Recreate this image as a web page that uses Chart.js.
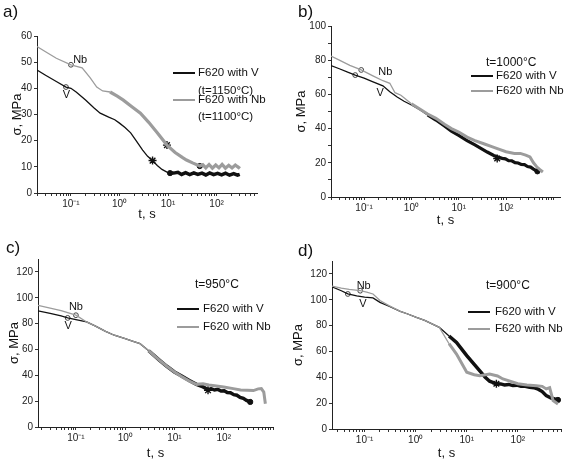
<!DOCTYPE html>
<html lang="en">
<head>
    <meta charset="UTF-8">
    <title>Stress relaxation F620</title>
    <script src="https://cdn.jsdelivr.net/npm/chart.js"></script>
    <style>
        body { margin: 0; background: #fff; font-family: "Liberation Sans", Arial, sans-serif; }
        #wrap { position: relative; width: 567px; height: 465px; overflow: hidden; }
        canvas { position: absolute; }
        .txt { position: absolute; color: #111; white-space: nowrap; line-height: 1; }
        .panel { font-size: 17px; }
        .leg { font-size: 11.5px; }
        .temp { font-size: 12px; }
        .sw { position: absolute; height: 2px; width: 22px; }
    </style>
</head>
<body>
<div id="wrap">
    <canvas id="chA" width="283" height="232" style="left:0;top:0"></canvas>
    <canvas id="chB" width="284" height="232" style="left:283px;top:0"></canvas>
    <canvas id="chC" width="283" height="233" style="left:0;top:232px"></canvas>
    <canvas id="chD" width="284" height="233" style="left:283px;top:232px"></canvas>

    <div class="txt panel" style="left:3px;top:3px">a)</div>
    <div class="txt panel" style="left:298px;top:3px">b)</div>
    <div class="txt panel" style="left:6px;top:239px">c)</div>
    <div class="txt panel" style="left:298px;top:242px">d)</div>

    <div class="sw" style="left:173px;top:72px;background:#111"></div>
    <div class="txt leg" style="left:198px;top:67px">F620 with V</div>
    <div class="txt leg" style="left:198px;top:85px">(t=1150°C)</div>
    <div class="sw" style="left:173px;top:99px;background:#9c9c9c"></div>
    <div class="txt leg" style="left:198px;top:94px">F620 with Nb</div>
    <div class="txt leg" style="left:198px;top:111px">(t=1100°C)</div>

    <div class="txt temp" style="left:486px;top:56px">t=1000°C</div>
    <div class="sw" style="left:471px;top:75px;background:#111"></div>
    <div class="txt leg" style="left:496px;top:70px">F620 with V</div>
    <div class="sw" style="left:471px;top:90px;background:#9c9c9c"></div>
    <div class="txt leg" style="left:496px;top:85px">F620 with Nb</div>

    <div class="txt temp" style="left:195px;top:278px">t=950°C</div>
    <div class="sw" style="left:177px;top:308px;background:#111"></div>
    <div class="txt leg" style="left:203px;top:303px">F620 with V</div>
    <div class="sw" style="left:177px;top:326px;background:#9c9c9c"></div>
    <div class="txt leg" style="left:203px;top:321px">F620 with Nb</div>

    <div class="txt temp" style="left:486px;top:279px">t=900°C</div>
    <div class="sw" style="left:468px;top:311px;background:#111"></div>
    <div class="txt leg" style="left:495px;top:306px">F620 with V</div>
    <div class="sw" style="left:468px;top:328px;background:#9c9c9c"></div>
    <div class="txt leg" style="left:495px;top:323px">F620 with Nb</div>
</div>

<script>
    // ---- a) V at 1150 C, Nb at 1100 C
    const tVa = [0.02,0.03,0.05,0.079,0.1,0.13,0.2,0.3,0.4,0.6,0.8,1,1.3,1.7,2.2,3,3.8,4.8,6,7.5,9.5,11,13,16,19,23,28,34,41,50,60,72,87,105,127,153,185,225,270,300];
    const vVa = [47,45,42.6,40.5,40,38.5,35.5,32.5,30.5,29,28,26.7,25,23,20,16.4,14,12.4,10.5,9,8,7.6,7.6,7.9,7.1,7.8,7.0,7.7,7.1,7.6,6.9,7.7,7.0,7.5,6.9,7.6,6.8,7.4,6.8,7.1];
    const tNa = [0.02,0.03,0.05,0.1,0.17,0.25,0.34,0.45,0.64,0.9,1.2,1.8,2.7,4,6,9.5,14,20,24,32,45,52,60,70,82,96,112,130,152,178,208,243,284,300];
    const vNa = [56,54,51.5,49,47.8,44,40.5,39,38.6,37,35.5,33,30.5,27,23,18.3,15.5,13.5,12.6,11.5,10.3,10.8,9.6,10.9,9.5,10.7,9.6,10.9,9.5,10.6,9.6,10.7,9.7,10.2];

    // ---- b) 1000 C
    const tVb = [0.02,0.03,0.045,0.065,0.1,0.15,0.25,0.35,0.5,0.7,1,1.5,2.2,3.3,5,7,10,15,22,40,55,70,83,97,113,132,155,180,210,245,285,330,380,460];
    const vVb = [76.8,75,73,71.3,69.5,67.5,65,61.5,58.5,56,53.8,51,48,45,41.5,38.5,36,33,30.5,26.3,24.3,23.2,22.6,22.3,21.3,21.2,20.1,19.9,19.0,18.9,17.8,17.5,16.3,15];
    const tNb = [0.02,0.03,0.05,0.087,0.15,0.25,0.35,0.45,0.6,1,1.5,2.2,3.3,5,7,10,15,22,35,50,70,100,150,200,260,320,380,450,520,600];
    const vNb = [82.4,80,77,74.3,71,68,66.5,61,59.5,54.5,51.5,48.5,46,42.5,40,38,35,33,31,29.5,28,26.5,25.5,25.5,24.5,23.4,20,17.5,16,14.6];

    // ---- c) 950 C
    const tVc = [0.017,0.03,0.05,0.068,0.1,0.165,0.25,0.4,0.6,1,1.4,2,3,5,7,10,14,20,28,38,48,56,65,76,88,102,118,137,160,185,215,250,290,345];
    const vVc = [89.8,88,86,84.4,83,81.3,78,74,71,68.4,66.5,64.5,59,51.6,47,42.6,39.5,36,33,31,28.9,29.6,28.6,29.1,27.9,28.0,26.6,26.5,25.0,24.6,22.9,22.2,20.5,19.4];
    const tNc = [0.017,0.03,0.05,0.1,0.165,0.25,0.4,0.6,1,1.4,2,3,5,7,10,14,20,28,38,50,71,100,156,220,300,400,500,580,650,700];
    const vNc = [94.2,92,90,86.5,81.3,78,74,71,68.4,66.5,64.5,59,51.6,47,42.6,39,35.5,33,33.5,32.5,31.7,31,29.7,28.7,28.4,28.2,29.5,29.7,27,18];

    // ---- d) 900 C
    const tVd = [0.023,0.035,0.047,0.07,0.1,0.146,0.2,0.3,0.5,0.7,1,1.5,2.9,4.5,6.3,10,14,18,23,28,38,46,55,66,80,96,115,140,170,205,250,300,360,450,610];
    const vVd = [110,107,104.5,103,102,101.4,98,95,91,89,86.5,84,78.7,72,67,56.8,50,45,40,37,35,34.9,34.1,34.5,33.6,33.9,33.0,33.1,32.2,32.0,30.8,29,25.8,24,22.5];
    const tNd = [0.023,0.035,0.05,0.082,0.11,0.146,0.2,0.3,0.5,0.7,1,1.5,2.9,4.5,6.3,10,14,18,28,40,51,70,100,150,230,300,360,420,490,610];
    const vNd = [110.5,109,108,107,106,104.5,99.4,95.5,91,89,86.5,84,78.7,66,58,43.9,42,41.3,42.6,41,38.7,37,35,34,33.5,33,31,32,22,19.4];

    // markers: open circles, stars, filled dots
    const openA = { t: [0.079, 0.1], v: [40.5, 49] }, starA = { t: [4.8, 9.5], v: [12.4, 18.3] }, dotA = { t: [11, 45], v: [7.6, 10.3] };
    const openB = { t: [0.065, 0.087], v: [71.3, 74.3] }, starB = { t: [65], v: [22.5] }, dotB = { t: [460], v: [15] };
    const openC = { t: [0.068, 0.1], v: [84.4, 86.5] }, starC = { t: [48], v: [28.4] }, dotC = { t: [345], v: [19.4] };
    const openD = { t: [0.047, 0.082], v: [104.5, 107] }, starD = { t: [38], v: [35] }, dotD = { t: [610], v: [22.5] };

    // curve labels
    const noteText = ['Nb', 'V'];
    const noteA = { t: [0.155, 0.081], v: [50.8, 37.4] };
    const noteB = { t: [0.28, 0.22], v: [73, 61] };
    const noteC = { t: [0.1, 0.07], v: [92.9, 77.9] };
    const noteD = { t: [0.096, 0.093], v: [111, 96.8] };

    // only these decades get a label (the reference does not print 10^3)
    const supLabels = { '-1': '10\u207B\u00B9', '0': '10\u2070', '1': '10\u00B9', '2': '10\u00B2' };
    const BLACK = '#111', GREY = '#9c9c9c';

    function pts(t, v) { return t.map((x, i) => ({ x: x, y: v[i] })); }

    const notesPlugin = {
        id: 'notes',
        afterDatasetsDraw(chart, args, opts) {
            const c = chart.ctx, xs = chart.scales.x, ys = chart.scales.y;
            c.save();
            c.font = '11px "Liberation Sans", Arial, sans-serif';
            c.fillStyle = '#111';
            c.textAlign = 'center';
            c.textBaseline = 'middle';
            opts.t.forEach((t, i) => c.fillText(noteText[i], xs.getPixelForValue(t), ys.getPixelForValue(opts.v[i])));
            c.restore();
        }
    };

    function makePanel(id, p) {
        // noisy part of a record is drawn as a thicker band
        const seg = (band, wide) => ({ borderWidth: ctx => ctx.p0.parsed.x >= band ? wide : 1.3 });
        return new Chart(document.getElementById(id), {
            type: 'line',
            data: {
                datasets: [
                    { data: pts(p.tN, p.vN), borderColor: GREY, borderWidth: 1.3, pointRadius: 0, tension: 0, segment: seg(p.bandN, p.wideN) },
                    { data: pts(p.tV, p.vV), borderColor: BLACK, borderWidth: 1.3, pointRadius: 0, tension: 0, segment: seg(p.bandV, p.wideV) },
                    { data: pts(p.open.t, p.open.v), showLine: false, pointRadius: 2.4, pointBackgroundColor: '#fff', pointBorderColor: '#444', pointBorderWidth: 1 },
                    { data: pts(p.star.t, p.star.v), showLine: false, pointStyle: 'star', pointRadius: 4, pointBorderColor: '#111', pointBorderWidth: 1.4 },
                    { data: pts(p.dot.t, p.dot.v), showLine: false, pointRadius: 2.6, pointBackgroundColor: '#111', pointBorderColor: '#111' }
                ]
            },
            options: {
                responsive: false,
                animation: false,
                layout: { padding: { left: 0, right: p.padRight, top: p.top, bottom: 0 } },
                plugins: { legend: { display: false }, tooltip: { enabled: false }, notes: p.note },
                scales: {
                    x: {
                        type: 'logarithmic',
                        min: p.xMin, max: p.xMax,
                        afterBuildTicks: scale => {
                            const ticks = [];
                            for (let e = -2; e <= 3; e++) {
                                for (let m = 1; m < 10; m++) {
                                    const v = m * Math.pow(10, e);
                                    if (v >= scale.min && v <= scale.max) ticks.push({ value: v });
                                }
                            }
                            scale.ticks = ticks;
                        },
                        afterFit: scale => { scale.height = p.xHeight; },
                        ticks: {
                            autoSkip: false, maxRotation: 0, padding: 2, color: '#222',
                            font: { size: 10, family: '"Liberation Sans", Arial' },
                            callback: value => {
                                const e = Math.round(Math.log10(value));
                                const isDecade = Math.abs(value - Math.pow(10, e)) < 1e-9 * value;
                                return isDecade && supLabels[e] ? supLabels[e] : '';
                            }
                        },
                        grid: { display: true, drawOnChartArea: false, drawTicks: true, tickLength: 3, color: '#333' },
                        border: { display: true, color: '#222', width: 1 },
                        title: { display: true, text: 't, s', color: '#111', font: { size: 13, family: '"Liberation Sans", Arial' }, padding: { top: 0, bottom: p.xTitlePad } }
                    },
                    y: {
                        min: 0, max: p.yMax,
                        afterFit: scale => { scale.width = p.left; },
                        ticks: {
                            stepSize: 10, padding: 2, color: '#222',
                            font: { size: 10, family: '"Liberation Sans", Arial' },
                            callback: value => value % p.yLabelStep === 0 ? value : ''
                        },
                        grid: { display: true, drawOnChartArea: false, drawTicks: true, tickLength: 3, color: '#333' },
                        border: { display: true, color: '#222', width: 1 },
                        title: { display: true, text: 'σ, MPa', color: '#111', font: { size: 13, family: '"Liberation Sans", Arial' }, padding: { top: p.yTitlePad, bottom: 2 } }
                    }
                }
            },
            plugins: [notesPlugin]
        });
    }

    makePanel('chA', { tV: tVa, vV: vVa, tN: tNa, vN: vNa, bandV: 11, wideV: 3.5, bandN: 0.5, wideN: 3.2, open: openA, star: starA, dot: dotA, note: noteA,
        xMin: 0.02, xMax: 680, yMax: 60, yLabelStep: 10, left: 37, padRight: 26, top: 36, xHeight: 39, xTitlePad: 10, yTitlePad: 10 });
    makePanel('chB', { tV: tVb, vV: vVb, tN: tNb, vN: vNb, bandV: 2, wideV: 3.2, bandN: 1, wideN: 3, open: openB, star: starB, dot: dotB, note: noteB,
        xMin: 0.02, xMax: 1380, yMax: 100, yLabelStep: 20, left: 48, padRight: 7, top: 26, xHeight: 35, xTitlePad: 4, yTitlePad: 11 });
    makePanel('chC', { tV: tVc, vV: vVc, tN: tNc, vN: vNc, bandV: 3, wideV: 3.5, bandN: 3, wideN: 3, open: openC, star: starC, dot: dotC, note: noteC,
        xMin: 0.017, xMax: 1000, yMax: 130, yLabelStep: 20, left: 38, padRight: 10, top: 27, xHeight: 38, xTitlePad: 4, yTitlePad: 7 });
    makePanel('chD', { tV: tVd, vV: vVd, tN: tNd, vN: vNd, bandV: 3, wideV: 3.5, bandN: 3, wideN: 3, open: openD, star: starD, dot: dotD, note: noteD,
        xMin: 0.023, xMax: 700, yMax: 130, yLabelStep: 20, left: 49, padRight: 6, top: 29, xHeight: 36, xTitlePad: 4, yTitlePad: 8 });
</script>
</body>
</html>
